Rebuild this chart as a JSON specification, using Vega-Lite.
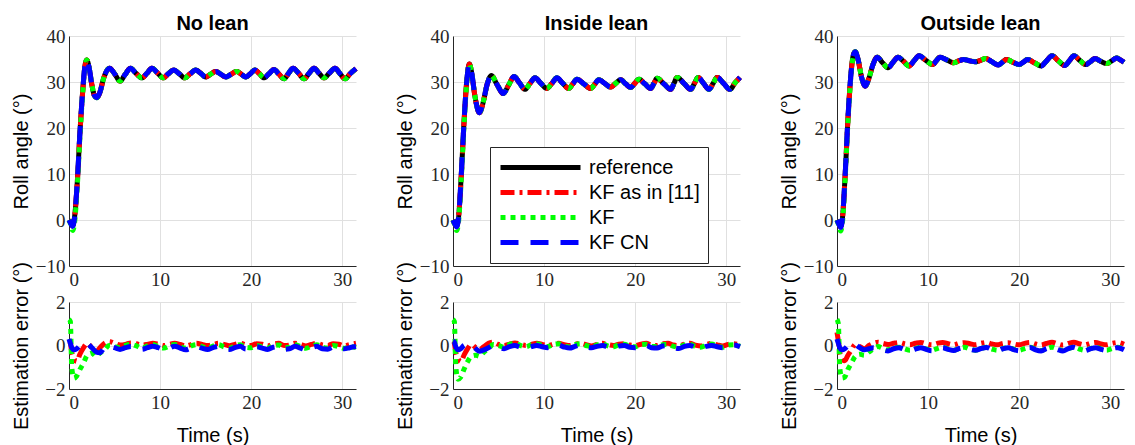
{
"$schema": "https://vega.github.io/schema/vega-lite/v6.json",
"padding": {"left": 10, "top": 14, "right": 5, "bottom": 2},
"background": "white",
"config": {
  "view": {"stroke": null},
  "axis": {"labelFont": "Liberation Serif", "labelFontSize": 19, "labelColor": "#262626", "titleFont": "Liberation Sans", "titleFontSize": 20, "titleFontWeight": "normal", "titleColor": "#000000", "domainColor": "#262626", "domainWidth": 1, "gridColor": "#e0e0e0", "gridWidth": 1, "ticks": false, "labelPadding": 4},
  "title": {"font": "Liberation Sans", "fontSize": 20, "fontWeight": "bold", "color": "#000000", "offset": -7},
  "line": {"strokeWidth": 5, "strokeCap": "butt", "interpolate": "monotone", "clip": true}
},
"datasets": {
"roll1": [
{"t":0,"r":0,"k11":0,"kf":0,"cn":0},
{"t":0.2,"r":-0.6,"k11":-0.6,"kf":-1.0,"cn":-0.8},
{"t":0.4,"r":-1.2,"k11":-1.3,"kf":-2.3,"cn":-1.4},
{"t":0.6,"r":0.5,"k11":0.4,"kf":-0.8,"cn":0.3},
{"t":0.9,"r":8,"k11":7.8,"kf":7,"cn":8},
{"t":1.2,"r":19,"k11":18.8,"kf":18,"cn":19},
{"t":1.5,"r":28,"k11":27.8,"kf":27.5,"cn":28},
{"t":1.75,"r":33.5,"k11":33.4,"kf":33.3,"cn":33.5},
{"t":1.95,"r":34.8,"k11":34.8,"kf":34.8,"cn":34.8},
{"t":2.2,"r":33.2,"k11":33.2,"kf":33.2,"cn":33.2},
{"t":2.5,"r":29.5,"k11":29.5,"kf":29.5,"cn":29.5},
{"t":2.8,"r":27,"k11":27,"kf":27,"cn":27},
{"t":3.05,"r":26.6,"k11":26.6,"kf":26.6,"cn":26.6},
{"t":3.4,"r":27.8,"k11":27.8,"kf":27.8,"cn":27.8},
{"t":3.8,"r":30.8,"k11":30.8,"kf":30.8,"cn":30.8},
{"t":4.45,"r":33.0,"k11":33.0,"kf":33.0,"cn":33.0},
{"t":5.0,"r":31.8,"k11":31.8,"kf":31.8,"cn":31.8},
{"t":5.6,"r":30.2,"k11":30.2,"kf":30.2,"cn":30.2},
{"t":6.15,"r":31.6,"k11":31.6,"kf":31.6,"cn":31.6},
{"t":6.75,"r":33.0,"k11":33.0,"kf":33.0,"cn":33.0},
{"t":7.35,"r":31.9,"k11":31.9,"kf":31.9,"cn":31.9},
{"t":8.0,"r":30.9,"k11":30.9,"kf":30.9,"cn":30.9},
{"t":8.55,"r":31.9,"k11":31.9,"kf":31.9,"cn":31.9},
{"t":9.1,"r":33.0,"k11":33.0,"kf":33.0,"cn":33.0},
{"t":9.7,"r":32.0,"k11":32.0,"kf":32.0,"cn":32.0},
{"t":10.35,"r":30.9,"k11":30.9,"kf":30.9,"cn":30.9},
{"t":10.9,"r":31.8,"k11":31.8,"kf":31.8,"cn":31.8},
{"t":11.5,"r":32.6,"k11":32.6,"kf":32.6,"cn":32.6},
{"t":12.1,"r":31.8,"k11":31.8,"kf":31.8,"cn":31.8},
{"t":12.7,"r":30.9,"k11":30.9,"kf":30.9,"cn":30.9},
{"t":13.3,"r":31.8,"k11":31.8,"kf":31.8,"cn":31.8},
{"t":13.9,"r":32.6,"k11":32.6,"kf":32.6,"cn":32.6},
{"t":14.45,"r":31.9,"k11":31.9,"kf":31.9,"cn":31.9},
{"t":15.0,"r":31.1,"k11":31.1,"kf":31.1,"cn":31.1},
{"t":15.55,"r":31.7,"k11":31.7,"kf":31.7,"cn":31.7},
{"t":16.1,"r":32.3,"k11":32.3,"kf":32.3,"cn":32.3},
{"t":16.65,"r":31.7,"k11":31.7,"kf":31.7,"cn":31.7},
{"t":17.2,"r":31.1,"k11":31.1,"kf":31.1,"cn":31.1},
{"t":17.8,"r":31.7,"k11":31.7,"kf":31.7,"cn":31.7},
{"t":18.4,"r":32.3,"k11":32.3,"kf":32.3,"cn":32.3},
{"t":18.9,"r":31.7,"k11":31.7,"kf":31.7,"cn":31.7},
{"t":19.4,"r":31.1,"k11":31.1,"kf":31.1,"cn":31.1},
{"t":19.9,"r":31.8,"k11":31.8,"kf":31.8,"cn":31.8},
{"t":20.4,"r":32.6,"k11":32.6,"kf":32.6,"cn":32.6},
{"t":20.9,"r":31.8,"k11":31.8,"kf":31.8,"cn":31.8},
{"t":21.4,"r":30.9,"k11":30.9,"kf":30.9,"cn":30.9},
{"t":21.95,"r":31.8,"k11":31.8,"kf":31.8,"cn":31.8},
{"t":22.5,"r":32.7,"k11":32.7,"kf":32.7,"cn":32.7},
{"t":23.05,"r":31.7,"k11":31.7,"kf":31.7,"cn":31.7},
{"t":23.6,"r":30.7,"k11":30.7,"kf":30.7,"cn":30.7},
{"t":24.1,"r":31.9,"k11":31.9,"kf":31.9,"cn":31.9},
{"t":24.6,"r":33.0,"k11":33.0,"kf":33.0,"cn":33.0},
{"t":25.2,"r":31.9,"k11":31.9,"kf":31.9,"cn":31.9},
{"t":25.8,"r":30.7,"k11":30.7,"kf":30.7,"cn":30.7},
{"t":26.35,"r":31.9,"k11":31.9,"kf":31.9,"cn":31.9},
{"t":26.9,"r":33.0,"k11":33.0,"kf":33.0,"cn":33.0},
{"t":27.45,"r":31.9,"k11":31.9,"kf":31.9,"cn":31.9},
{"t":28.0,"r":30.9,"k11":30.9,"kf":30.9,"cn":30.9},
{"t":28.6,"r":32.0,"k11":32.0,"kf":32.0,"cn":32.0},
{"t":29.2,"r":33.0,"k11":33.0,"kf":33.0,"cn":33.0},
{"t":29.75,"r":31.8,"k11":31.8,"kf":31.8,"cn":31.8},
{"t":30.3,"r":30.7,"k11":30.7,"kf":30.7,"cn":30.7},
{"t":30.85,"r":31.8,"k11":31.8,"kf":31.8,"cn":31.8},
{"t":31.5,"r":32.9,"k11":32.9,"kf":32.9,"cn":32.9}
],
"roll2": [
{"t":0,"r":0,"k11":0,"kf":0,"cn":0},
{"t":0.2,"r":-0.8,"k11":-0.8,"kf":-1.2,"cn":-0.9},
{"t":0.4,"r":-1.3,"k11":-1.4,"kf":-2.3,"cn":-1.5},
{"t":0.6,"r":0.5,"k11":0.4,"kf":-0.6,"cn":0.3},
{"t":0.9,"r":9.5,"k11":9.3,"kf":8.6,"cn":9.5},
{"t":1.2,"r":21,"k11":20.8,"kf":20.2,"cn":21},
{"t":1.5,"r":30,"k11":29.8,"kf":29.6,"cn":30},
{"t":1.8,"r":33.9,"k11":33.9,"kf":33.9,"cn":33.9},
{"t":2.05,"r":32,"k11":32,"kf":32,"cn":32},
{"t":2.4,"r":27,"k11":27,"kf":27,"cn":27},
{"t":2.9,"r":23.3,"k11":23.3,"kf":23.3,"cn":23.3},
{"t":3.3,"r":25.5,"k11":25.5,"kf":25.5,"cn":25.5},
{"t":3.75,"r":29.5,"k11":29.5,"kf":29.5,"cn":29.5},
{"t":4.2,"r":31.4,"k11":31.4,"kf":31.4,"cn":31.4},
{"t":4.85,"r":29.4,"k11":29.4,"kf":29.4,"cn":29.4},
{"t":5.5,"r":27.5,"k11":27.5,"kf":27.5,"cn":27.5},
{"t":6.1,"r":29.3,"k11":29.3,"kf":29.3,"cn":29.3},
{"t":6.7,"r":31.2,"k11":31.2,"kf":31.2,"cn":31.2},
{"t":7.3,"r":29.8,"k11":29.8,"kf":29.8,"cn":29.8},
{"t":7.9,"r":28.4,"k11":28.4,"kf":28.4,"cn":28.4},
{"t":8.45,"r":29.7,"k11":29.7,"kf":29.7,"cn":29.7},
{"t":9.0,"r":30.9,"k11":30.9,"kf":30.9,"cn":30.9},
{"t":9.65,"r":29.7,"k11":29.7,"kf":29.7,"cn":29.7},
{"t":10.3,"r":28.6,"k11":28.6,"kf":28.6,"cn":28.6},
{"t":10.85,"r":29.7,"k11":29.7,"kf":29.7,"cn":29.7},
{"t":11.4,"r":30.9,"k11":30.9,"kf":30.9,"cn":30.9},
{"t":12.05,"r":29.7,"k11":29.7,"kf":29.7,"cn":29.7},
{"t":12.7,"r":28.6,"k11":28.6,"kf":28.6,"cn":28.6},
{"t":13.15,"r":29.6,"k11":29.6,"kf":29.6,"cn":29.6},
{"t":13.6,"r":30.6,"k11":30.6,"kf":30.6,"cn":30.6},
{"t":14.35,"r":29.6,"k11":29.6,"kf":29.6,"cn":29.6},
{"t":15.1,"r":28.6,"k11":28.6,"kf":28.6,"cn":28.6},
{"t":15.55,"r":29.5,"k11":29.5,"kf":29.5,"cn":29.5},
{"t":16.0,"r":30.5,"k11":30.5,"kf":30.5,"cn":30.5},
{"t":16.65,"r":29.7,"k11":29.7,"kf":29.7,"cn":29.7},
{"t":17.3,"r":28.9,"k11":28.9,"kf":28.9,"cn":28.9},
{"t":17.85,"r":29.7,"k11":29.7,"kf":29.7,"cn":29.7},
{"t":18.4,"r":30.5,"k11":30.5,"kf":30.5,"cn":30.5},
{"t":18.95,"r":29.6,"k11":29.6,"kf":29.6,"cn":29.6},
{"t":19.5,"r":28.8,"k11":28.8,"kf":28.8,"cn":28.8},
{"t":19.95,"r":29.7,"k11":29.7,"kf":29.7,"cn":29.7},
{"t":20.4,"r":30.6,"k11":30.6,"kf":30.6,"cn":30.6},
{"t":21.05,"r":29.6,"k11":29.6,"kf":29.6,"cn":29.6},
{"t":21.7,"r":28.6,"k11":28.6,"kf":28.6,"cn":28.6},
{"t":22.05,"r":29.7,"k11":29.7,"kf":29.7,"cn":29.7},
{"t":22.4,"r":30.8,"k11":30.8,"kf":30.8,"cn":30.8},
{"t":23.15,"r":29.6,"k11":29.6,"kf":29.6,"cn":29.6},
{"t":23.9,"r":28.4,"k11":28.4,"kf":28.4,"cn":28.4},
{"t":24.25,"r":29.7,"k11":29.7,"kf":29.7,"cn":29.7},
{"t":24.6,"r":31.0,"k11":31.0,"kf":31.0,"cn":31.0},
{"t":25.35,"r":29.7,"k11":29.7,"kf":29.7,"cn":29.7},
{"t":26.1,"r":28.4,"k11":28.4,"kf":28.4,"cn":28.4},
{"t":26.5,"r":29.7,"k11":29.7,"kf":29.7,"cn":29.7},
{"t":26.9,"r":31.0,"k11":31.0,"kf":31.0,"cn":31.0},
{"t":27.5,"r":29.7,"k11":29.7,"kf":29.7,"cn":29.7},
{"t":28.1,"r":28.4,"k11":28.4,"kf":28.4,"cn":28.4},
{"t":28.55,"r":29.7,"k11":29.7,"kf":29.7,"cn":29.7},
{"t":29.0,"r":31.0,"k11":31.0,"kf":31.0,"cn":31.0},
{"t":29.7,"r":29.7,"k11":29.7,"kf":29.7,"cn":29.7},
{"t":30.4,"r":28.4,"k11":28.4,"kf":28.4,"cn":28.4},
{"t":30.95,"r":29.8,"k11":29.8,"kf":29.8,"cn":29.8},
{"t":31.5,"r":31.0,"k11":31.0,"kf":31.0,"cn":31.0}
],
"roll3": [
{"t":0,"r":0,"k11":0,"kf":0,"cn":0},
{"t":0.2,"r":-0.8,"k11":-0.8,"kf":-1.2,"cn":-0.9},
{"t":0.4,"r":-1.4,"k11":-1.5,"kf":-2.4,"cn":-1.6},
{"t":0.6,"r":0.5,"k11":0.4,"kf":-0.5,"cn":0.3},
{"t":0.9,"r":10,"k11":9.8,"kf":9.2,"cn":10},
{"t":1.2,"r":22,"k11":21.8,"kf":21.2,"cn":22},
{"t":1.5,"r":31,"k11":30.8,"kf":30.6,"cn":31},
{"t":1.75,"r":35.5,"k11":35.4,"kf":35.3,"cn":35.5},
{"t":2.0,"r":36.6,"k11":36.6,"kf":36.6,"cn":36.6},
{"t":2.3,"r":35,"k11":35,"kf":35,"cn":35},
{"t":2.7,"r":31,"k11":31,"kf":31,"cn":31},
{"t":3.1,"r":29.1,"k11":29.1,"kf":29.1,"cn":29.1},
{"t":3.5,"r":30.8,"k11":30.8,"kf":30.8,"cn":30.8},
{"t":3.95,"r":33.8,"k11":33.8,"kf":33.8,"cn":33.8},
{"t":4.4,"r":35.4,"k11":35.4,"kf":35.4,"cn":35.4},
{"t":5.0,"r":34.2,"k11":34.2,"kf":34.2,"cn":34.2},
{"t":5.6,"r":33.1,"k11":33.1,"kf":33.1,"cn":33.1},
{"t":6.15,"r":34.3,"k11":34.3,"kf":34.3,"cn":34.3},
{"t":6.7,"r":35.4,"k11":35.4,"kf":35.4,"cn":35.4},
{"t":7.3,"r":34.5,"k11":34.5,"kf":34.5,"cn":34.5},
{"t":7.9,"r":33.5,"k11":33.5,"kf":33.5,"cn":33.5},
{"t":8.45,"r":34.6,"k11":34.6,"kf":34.6,"cn":34.6},
{"t":9.0,"r":35.7,"k11":35.7,"kf":35.7,"cn":35.7},
{"t":9.75,"r":34.7,"k11":34.7,"kf":34.7,"cn":34.7},
{"t":10.5,"r":33.8,"k11":33.8,"kf":33.8,"cn":33.8},
{"t":10.9,"r":34.6,"k11":34.6,"kf":34.6,"cn":34.6},
{"t":11.3,"r":35.4,"k11":35.4,"kf":35.4,"cn":35.4},
{"t":12.05,"r":34.8,"k11":34.8,"kf":34.8,"cn":34.8},
{"t":12.8,"r":34.2,"k11":34.2,"kf":34.2,"cn":34.2},
{"t":13.35,"r":34.6,"k11":34.6,"kf":34.6,"cn":34.6},
{"t":13.9,"r":34.9,"k11":34.9,"kf":34.9,"cn":34.9},
{"t":14.55,"r":34.6,"k11":34.6,"kf":34.6,"cn":34.6},
{"t":15.2,"r":34.4,"k11":34.4,"kf":34.4,"cn":34.4},
{"t":15.75,"r":34.7,"k11":34.7,"kf":34.7,"cn":34.7},
{"t":16.3,"r":35.1,"k11":35.1,"kf":35.1,"cn":35.1},
{"t":17.0,"r":34.4,"k11":34.4,"kf":34.4,"cn":34.4},
{"t":17.7,"r":33.7,"k11":33.7,"kf":33.7,"cn":33.7},
{"t":18.15,"r":34.3,"k11":34.3,"kf":34.3,"cn":34.3},
{"t":18.6,"r":34.9,"k11":34.9,"kf":34.9,"cn":34.9},
{"t":19.3,"r":34.3,"k11":34.3,"kf":34.3,"cn":34.3},
{"t":20.0,"r":33.8,"k11":33.8,"kf":33.8,"cn":33.8},
{"t":20.45,"r":34.3,"k11":34.3,"kf":34.3,"cn":34.3},
{"t":20.9,"r":34.9,"k11":34.9,"kf":34.9,"cn":34.9},
{"t":21.65,"r":34.2,"k11":34.2,"kf":34.2,"cn":34.2},
{"t":22.4,"r":33.5,"k11":33.5,"kf":33.5,"cn":33.5},
{"t":23.0,"r":34.6,"k11":34.6,"kf":34.6,"cn":34.6},
{"t":23.6,"r":35.7,"k11":35.7,"kf":35.7,"cn":35.7},
{"t":24.3,"r":34.6,"k11":34.6,"kf":34.6,"cn":34.6},
{"t":25.0,"r":33.6,"k11":33.6,"kf":33.6,"cn":33.6},
{"t":25.5,"r":34.6,"k11":34.6,"kf":34.6,"cn":34.6},
{"t":26.0,"r":35.7,"k11":35.7,"kf":35.7,"cn":35.7},
{"t":26.65,"r":34.7,"k11":34.7,"kf":34.7,"cn":34.7},
{"t":27.3,"r":33.8,"k11":33.8,"kf":33.8,"cn":33.8},
{"t":27.8,"r":34.4,"k11":34.4,"kf":34.4,"cn":34.4},
{"t":28.3,"r":35.1,"k11":35.1,"kf":35.1,"cn":35.1},
{"t":28.95,"r":34.5,"k11":34.5,"kf":34.5,"cn":34.5},
{"t":29.6,"r":34.0,"k11":34.0,"kf":34.0,"cn":34.0},
{"t":30.15,"r":34.6,"k11":34.6,"kf":34.6,"cn":34.6},
{"t":30.7,"r":35.2,"k11":35.2,"kf":35.2,"cn":35.2},
{"t":31.1,"r":34.8,"k11":34.8,"kf":34.8,"cn":34.8},
{"t":31.5,"r":34.3,"k11":34.3,"kf":34.3,"cn":34.3}
],
"err1": [
{"t":0,"k11":0.2,"kf":1.2,"cn":0.3},
{"t":0.15,"k11":0.1,"kf":1.1,"cn":0.1},
{"t":0.3,"k11":-0.3,"kf":-1.0,"cn":-0.1},
{"t":0.55,"k11":-0.6,"kf":-1.5,"cn":-0.2},
{"t":0.85,"k11":-0.73,"kf":-1.4,"cn":-0.15},
{"t":1.2,"k11":-0.4,"kf":-1.1,"cn":0.0},
{"t":1.6,"k11":-0.1,"kf":-0.8,"cn":0.1},
{"t":2.0,"k11":0.1,"kf":-0.45,"cn":0.08},
{"t":2.5,"k11":-0.1,"kf":-0.35,"cn":-0.1},
{"t":3.0,"k11":-0.27,"kf":-0.5,"cn":-0.3},
{"t":3.4,"k11":-0.1,"kf":-0.35,"cn":-0.33},
{"t":3.9,"k11":0.1,"kf":-0.2,"cn":-0.1},
{"t":4.4,"k11":0.18,"kf":0.0,"cn":-0.05},
{"t":5.0,"k11":0.1,"kf":-0.05,"cn":-0.1},
{"t":5.6,"k11":0.02,"kf":-0.1,"cn":-0.18},
{"t":6.2,"k11":0.05,"kf":0.0,"cn":-0.1},
{"t":6.8,"k11":0.12,"kf":0.05,"cn":-0.05},
{"t":7.4,"k11":0.08,"kf":-0.02,"cn":-0.12},
{"t":8.0,"k11":0.02,"kf":-0.12,"cn":-0.17},
{"t":8.6,"k11":0.05,"kf":-0.02,"cn":-0.1},
{"t":9.2,"k11":0.1,"kf":0.05,"cn":-0.03},
{"t":9.8,"k11":0.06,"kf":-0.05,"cn":-0.1},
{"t":10.4,"k11":0.0,"kf":-0.12,"cn":-0.18},
{"t":11.0,"k11":0.05,"kf":-0.03,"cn":-0.12},
{"t":11.6,"k11":0.1,"kf":0.05,"cn":-0.03},
{"t":12.2,"k11":0.05,"kf":-0.05,"cn":-0.12},
{"t":12.8,"k11":-0.02,"kf":-0.12,"cn":-0.2},
{"t":13.4,"k11":0.04,"kf":-0.02,"cn":-0.12},
{"t":14.0,"k11":0.1,"kf":0.04,"cn":-0.04},
{"t":14.6,"k11":0.05,"kf":-0.05,"cn":-0.12},
{"t":15.2,"k11":0.0,"kf":-0.12,"cn":-0.18},
{"t":15.8,"k11":0.04,"kf":-0.03,"cn":-0.1},
{"t":16.4,"k11":0.1,"kf":0.04,"cn":-0.04},
{"t":17.0,"k11":0.05,"kf":-0.06,"cn":-0.12},
{"t":17.6,"k11":-0.01,"kf":-0.12,"cn":-0.18},
{"t":18.2,"k11":0.05,"kf":-0.02,"cn":-0.1},
{"t":18.8,"k11":0.1,"kf":0.04,"cn":-0.04},
{"t":19.4,"k11":0.03,"kf":-0.08,"cn":-0.16},
{"t":20.0,"k11":0.0,"kf":-0.1,"cn":-0.14},
{"t":20.6,"k11":0.08,"kf":0.0,"cn":-0.06},
{"t":21.2,"k11":0.06,"kf":-0.06,"cn":-0.12},
{"t":21.8,"k11":-0.02,"kf":-0.12,"cn":-0.18},
{"t":22.4,"k11":0.06,"kf":0.0,"cn":-0.08},
{"t":23.0,"k11":0.1,"kf":0.02,"cn":-0.05},
{"t":23.6,"k11":0.0,"kf":-0.1,"cn":-0.17},
{"t":24.2,"k11":0.02,"kf":-0.08,"cn":-0.15},
{"t":24.8,"k11":0.1,"kf":0.03,"cn":-0.04},
{"t":25.4,"k11":0.05,"kf":-0.05,"cn":-0.12},
{"t":26.0,"k11":-0.02,"kf":-0.13,"cn":-0.2},
{"t":26.6,"k11":0.05,"kf":-0.03,"cn":-0.1},
{"t":27.2,"k11":0.1,"kf":0.04,"cn":-0.04},
{"t":27.8,"k11":0.03,"kf":-0.08,"cn":-0.15},
{"t":28.4,"k11":0.0,"kf":-0.12,"cn":-0.17},
{"t":29.0,"k11":0.08,"kf":0.0,"cn":-0.07},
{"t":29.6,"k11":0.06,"kf":-0.05,"cn":-0.1},
{"t":30.2,"k11":-0.02,"kf":-0.13,"cn":-0.15},
{"t":30.8,"k11":0.04,"kf":-0.05,"cn":-0.1},
{"t":31.5,"k11":0.1,"kf":-0.1,"cn":-0.05}
],
"err2": [
{"t":0,"k11":0.2,"kf":1.2,"cn":0.2},
{"t":0.15,"k11":0.1,"kf":1.1,"cn":0.15},
{"t":0.3,"k11":-0.3,"kf":-0.9,"cn":-0.05},
{"t":0.55,"k11":-0.6,"kf":-1.55,"cn":-0.2},
{"t":0.85,"k11":-0.75,"kf":-1.45,"cn":-0.15},
{"t":1.2,"k11":-0.45,"kf":-1.1,"cn":0.0},
{"t":1.6,"k11":-0.15,"kf":-0.75,"cn":0.05},
{"t":2.0,"k11":0.05,"kf":-0.5,"cn":0.02},
{"t":2.5,"k11":-0.1,"kf":-0.45,"cn":-0.15},
{"t":2.9,"k11":-0.2,"kf":-0.5,"cn":-0.27},
{"t":3.4,"k11":-0.05,"kf":-0.3,"cn":-0.2},
{"t":3.9,"k11":0.1,"kf":-0.15,"cn":-0.1},
{"t":4.4,"k11":0.15,"kf":0.05,"cn":0.0},
{"t":5.0,"k11":0.05,"kf":0.0,"cn":-0.08},
{"t":5.6,"k11":0.0,"kf":-0.08,"cn":-0.15},
{"t":6.2,"k11":0.06,"kf":0.05,"cn":-0.05},
{"t":6.8,"k11":0.12,"kf":0.1,"cn":0.0},
{"t":7.4,"k11":0.06,"kf":0.0,"cn":-0.08},
{"t":8.0,"k11":0.0,"kf":-0.06,"cn":-0.12},
{"t":8.6,"k11":0.05,"kf":0.04,"cn":-0.05},
{"t":9.2,"k11":0.1,"kf":0.08,"cn":0.0},
{"t":9.8,"k11":0.05,"kf":0.0,"cn":-0.06},
{"t":10.4,"k11":0.0,"kf":-0.05,"cn":-0.1},
{"t":11.0,"k11":0.06,"kf":0.05,"cn":-0.03},
{"t":11.6,"k11":0.1,"kf":0.08,"cn":0.02},
{"t":12.2,"k11":0.04,"kf":-0.02,"cn":-0.07},
{"t":12.8,"k11":0.0,"kf":-0.06,"cn":-0.12},
{"t":13.4,"k11":0.06,"kf":0.04,"cn":-0.04},
{"t":14.0,"k11":0.1,"kf":0.08,"cn":0.02},
{"t":14.6,"k11":0.04,"kf":0.0,"cn":-0.06},
{"t":15.2,"k11":-0.02,"kf":-0.06,"cn":-0.1},
{"t":15.8,"k11":0.05,"kf":0.03,"cn":-0.04},
{"t":16.4,"k11":0.1,"kf":0.07,"cn":0.0},
{"t":17.0,"k11":0.04,"kf":-0.02,"cn":-0.06},
{"t":17.6,"k11":0.0,"kf":-0.06,"cn":-0.12},
{"t":18.2,"k11":0.06,"kf":0.04,"cn":-0.03},
{"t":18.8,"k11":0.08,"kf":0.06,"cn":0.0},
{"t":19.4,"k11":0.02,"kf":-0.04,"cn":-0.08},
{"t":20.0,"k11":0.0,"kf":-0.06,"cn":-0.1},
{"t":20.6,"k11":0.06,"kf":0.04,"cn":-0.03},
{"t":21.2,"k11":0.1,"kf":0.06,"cn":0.0},
{"t":21.8,"k11":0.02,"kf":-0.04,"cn":-0.1},
{"t":22.4,"k11":0.0,"kf":-0.05,"cn":-0.12},
{"t":23.0,"k11":0.08,"kf":0.04,"cn":-0.02},
{"t":23.6,"k11":0.1,"kf":0.06,"cn":0.0},
{"t":24.2,"k11":0.02,"kf":-0.04,"cn":-0.1},
{"t":24.8,"k11":0.0,"kf":-0.06,"cn":-0.14},
{"t":25.4,"k11":0.06,"kf":0.03,"cn":-0.04},
{"t":26.0,"k11":0.1,"kf":0.06,"cn":0.0},
{"t":26.6,"k11":0.02,"kf":-0.04,"cn":-0.08},
{"t":27.2,"k11":-0.02,"kf":-0.08,"cn":-0.12},
{"t":27.8,"k11":0.05,"kf":0.02,"cn":-0.04},
{"t":28.4,"k11":0.1,"kf":0.07,"cn":0.0},
{"t":29.0,"k11":0.03,"kf":-0.04,"cn":-0.06},
{"t":29.6,"k11":-0.02,"kf":-0.08,"cn":-0.1},
{"t":30.2,"k11":0.05,"kf":0.02,"cn":-0.02},
{"t":30.8,"k11":0.08,"kf":0.04,"cn":0.02},
{"t":31.5,"k11":0.02,"kf":-0.04,"cn":-0.06}
],
"err3": [
{"t":0,"k11":0.6,"kf":1.2,"cn":0.3},
{"t":0.15,"k11":0.2,"kf":1.0,"cn":0.1},
{"t":0.3,"k11":-0.3,"kf":-1.0,"cn":-0.1},
{"t":0.55,"k11":-0.6,"kf":-1.5,"cn":-0.2},
{"t":0.85,"k11":-0.7,"kf":-1.45,"cn":-0.15},
{"t":1.2,"k11":-0.45,"kf":-1.1,"cn":0.0},
{"t":1.6,"k11":-0.2,"kf":-0.8,"cn":0.08},
{"t":2.0,"k11":0.05,"kf":-0.5,"cn":0.05},
{"t":2.5,"k11":-0.05,"kf":-0.4,"cn":-0.1},
{"t":3.0,"k11":-0.15,"kf":-0.45,"cn":-0.2},
{"t":3.5,"k11":0.0,"kf":-0.3,"cn":-0.15},
{"t":4.0,"k11":0.1,"kf":-0.15,"cn":-0.1},
{"t":4.5,"k11":0.15,"kf":-0.05,"cn":-0.15},
{"t":5.0,"k11":0.1,"kf":-0.12,"cn":-0.2},
{"t":5.6,"k11":0.05,"kf":-0.2,"cn":-0.25},
{"t":6.2,"k11":0.1,"kf":-0.12,"cn":-0.15},
{"t":6.8,"k11":0.14,"kf":-0.08,"cn":-0.1},
{"t":7.4,"k11":0.08,"kf":-0.15,"cn":-0.18},
{"t":8.0,"k11":0.04,"kf":-0.22,"cn":-0.24},
{"t":8.6,"k11":0.1,"kf":-0.14,"cn":-0.16},
{"t":9.2,"k11":0.14,"kf":-0.08,"cn":-0.1},
{"t":9.8,"k11":0.08,"kf":-0.16,"cn":-0.18},
{"t":10.4,"k11":0.03,"kf":-0.22,"cn":-0.24},
{"t":11.0,"k11":0.1,"kf":-0.14,"cn":-0.15},
{"t":11.6,"k11":0.14,"kf":-0.08,"cn":-0.1},
{"t":12.2,"k11":0.08,"kf":-0.16,"cn":-0.18},
{"t":12.8,"k11":0.03,"kf":-0.22,"cn":-0.23},
{"t":13.4,"k11":0.1,"kf":-0.14,"cn":-0.14},
{"t":14.0,"k11":0.13,"kf":-0.08,"cn":-0.1},
{"t":14.6,"k11":0.08,"kf":-0.16,"cn":-0.18},
{"t":15.2,"k11":0.04,"kf":-0.22,"cn":-0.22},
{"t":15.8,"k11":0.1,"kf":-0.14,"cn":-0.14},
{"t":16.4,"k11":0.14,"kf":-0.08,"cn":-0.09},
{"t":17.0,"k11":0.07,"kf":-0.16,"cn":-0.18},
{"t":17.6,"k11":0.03,"kf":-0.22,"cn":-0.24},
{"t":18.2,"k11":0.1,"kf":-0.14,"cn":-0.15},
{"t":18.8,"k11":0.13,"kf":-0.08,"cn":-0.1},
{"t":19.4,"k11":0.07,"kf":-0.17,"cn":-0.19},
{"t":20.0,"k11":0.03,"kf":-0.22,"cn":-0.24},
{"t":20.6,"k11":0.1,"kf":-0.14,"cn":-0.14},
{"t":21.2,"k11":0.14,"kf":-0.08,"cn":-0.09},
{"t":21.8,"k11":0.07,"kf":-0.17,"cn":-0.2},
{"t":22.4,"k11":0.02,"kf":-0.23,"cn":-0.25},
{"t":23.0,"k11":0.1,"kf":-0.14,"cn":-0.14},
{"t":23.6,"k11":0.15,"kf":-0.08,"cn":-0.08},
{"t":24.2,"k11":0.08,"kf":-0.16,"cn":-0.18},
{"t":24.8,"k11":0.02,"kf":-0.23,"cn":-0.25},
{"t":25.4,"k11":0.1,"kf":-0.14,"cn":-0.14},
{"t":26.0,"k11":0.15,"kf":-0.08,"cn":-0.08},
{"t":26.6,"k11":0.08,"kf":-0.16,"cn":-0.18},
{"t":27.2,"k11":0.03,"kf":-0.22,"cn":-0.24},
{"t":27.8,"k11":0.1,"kf":-0.14,"cn":-0.15},
{"t":28.4,"k11":0.14,"kf":-0.08,"cn":-0.1},
{"t":29.0,"k11":0.07,"kf":-0.16,"cn":-0.18},
{"t":29.6,"k11":0.03,"kf":-0.22,"cn":-0.23},
{"t":30.2,"k11":0.1,"kf":-0.14,"cn":-0.14},
{"t":30.8,"k11":0.14,"kf":-0.08,"cn":-0.1},
{"t":31.5,"k11":0.06,"kf":-0.18,"cn":-0.2}
]
},
"bounds": "flush",
"columns": 3,
"spacing": {"row": 36, "column": 97},
"concat": [
  {"title": "No lean", "width": 287, "height": 230, "data": {"name": "roll1"},
   "transform": [{"fold": ["r","k11","kf","cn"], "as": ["s","v"]}],
   "mark": {"type": "line"},
   "encoding": {
    "x": {"field": "t", "type": "quantitative", "scale": {"domain": [0, 31.5], "nice": false}, "axis": {"values": [0,10,20,30], "title": null}},
    "y": {"field": "v", "type": "quantitative", "scale": {"domain": [-10, 40], "nice": false, "zero": false}, "axis": {"values": [-10,0,10,20,30,40], "title": "Roll angle (°)", "titleX": -38}},
    "color": {"field": "s", "type": "nominal", "scale": {"domain": ["r","k11","kf","cn"], "range": ["#000000","#ff0000","#00ff00","#0000ff"]}, "legend": {"orient": "none", "legendX": 421, "legendY": 111, "title": null, "symbolType": "stroke", "symbolSize": 6400, "symbolStrokeWidth": 5, "clipHeight": 25, "rowPadding": 0, "labelFont": "Liberation Sans", "labelFontSize": 20, "labelColor": "#000000", "strokeColor": "#262626", "fillColor": "#ffffff", "padding": 8, "labelOffset": 6, "labelExpr": "datum.label == 'r' ? 'reference' : datum.label == 'k11' ? 'KF as in [11]' : datum.label == 'kf' ? 'KF' : 'KF CN'"}},
    "strokeDash": {"field": "s", "type": "nominal", "scale": {"domain": ["r","k11","kf","cn"], "range": [[1,0],[14,5,3,5],[5,5],[18,12]]}, "legend": {"orient": "none", "legendX": 421, "legendY": 111, "title": null}}
   }},
  {"title": "Inside lean", "width": 287, "height": 230, "data": {"name": "roll2"},
   "transform": [{"fold": ["r","k11","kf","cn"], "as": ["s","v"]}],
   "mark": {"type": "line"},
   "encoding": {
    "x": {"field": "t", "type": "quantitative", "scale": {"domain": [0, 31.5], "nice": false}, "axis": {"values": [0,10,20,30], "title": null}},
    "y": {"field": "v", "type": "quantitative", "scale": {"domain": [-10, 40], "nice": false, "zero": false}, "axis": {"values": [-10,0,10,20,30,40], "title": "Roll angle (°)", "titleX": -38}},
    "color": {"field": "s", "type": "nominal"},
    "strokeDash": {"field": "s", "type": "nominal"}
   }},
  {"title": "Outside lean", "width": 287, "height": 230, "data": {"name": "roll3"},
   "transform": [{"fold": ["r","k11","kf","cn"], "as": ["s","v"]}],
   "mark": {"type": "line"},
   "encoding": {
    "x": {"field": "t", "type": "quantitative", "scale": {"domain": [0, 31.5], "nice": false}, "axis": {"values": [0,10,20,30], "title": null}},
    "y": {"field": "v", "type": "quantitative", "scale": {"domain": [-10, 40], "nice": false, "zero": false}, "axis": {"values": [-10,0,10,20,30,40], "title": "Roll angle (°)", "titleX": -38}},
    "color": {"field": "s", "type": "nominal"},
    "strokeDash": {"field": "s", "type": "nominal"}
   }},
  {"width": 287, "height": 87, "data": {"name": "err1"},
   "transform": [{"fold": ["k11","kf","cn"], "as": ["s","v"]}],
   "mark": {"type": "line"},
   "encoding": {
    "x": {"field": "t", "type": "quantitative", "scale": {"domain": [0, 31.5], "nice": false}, "axis": {"values": [0,10,20,30], "title": "Time (s)", "titlePadding": 13}},
    "y": {"field": "v", "type": "quantitative", "scale": {"domain": [-2, 2], "nice": false, "zero": false}, "axis": {"values": [-2,0,2], "title": "Estimation error (°)", "titleX": -38}},
    "color": {"field": "s", "type": "nominal"},
    "strokeDash": {"field": "s", "type": "nominal"}
   }},
  {"width": 287, "height": 87, "data": {"name": "err2"},
   "transform": [{"fold": ["k11","kf","cn"], "as": ["s","v"]}],
   "mark": {"type": "line"},
   "encoding": {
    "x": {"field": "t", "type": "quantitative", "scale": {"domain": [0, 31.5], "nice": false}, "axis": {"values": [0,10,20,30], "title": "Time (s)", "titlePadding": 13}},
    "y": {"field": "v", "type": "quantitative", "scale": {"domain": [-2, 2], "nice": false, "zero": false}, "axis": {"values": [-2,0,2], "title": "Estimation error (°)", "titleX": -38}},
    "color": {"field": "s", "type": "nominal"},
    "strokeDash": {"field": "s", "type": "nominal"}
   }},
  {"width": 287, "height": 87, "data": {"name": "err3"},
   "transform": [{"fold": ["k11","kf","cn"], "as": ["s","v"]}],
   "mark": {"type": "line"},
   "encoding": {
    "x": {"field": "t", "type": "quantitative", "scale": {"domain": [0, 31.5], "nice": false}, "axis": {"values": [0,10,20,30], "title": "Time (s)", "titlePadding": 13}},
    "y": {"field": "v", "type": "quantitative", "scale": {"domain": [-2, 2], "nice": false, "zero": false}, "axis": {"values": [-2,0,2], "title": "Estimation error (°)", "titleX": -38}},
    "color": {"field": "s", "type": "nominal"},
    "strokeDash": {"field": "s", "type": "nominal"}
   }}
]
}
